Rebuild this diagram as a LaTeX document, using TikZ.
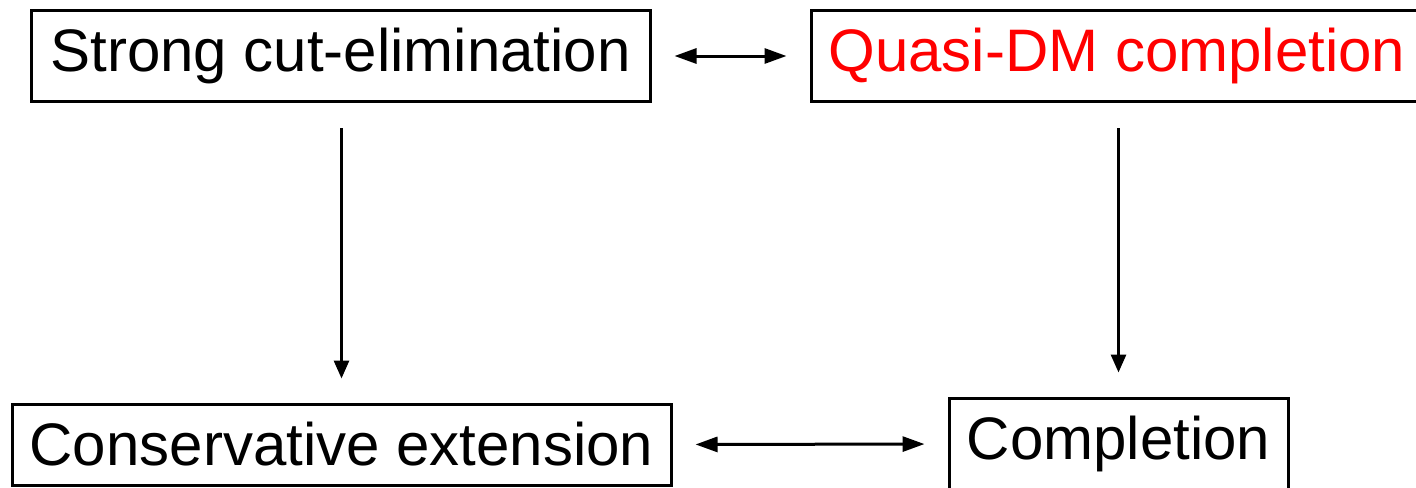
\documentclass[tikz,border=0pt]{standalone}
\usepackage{fontspec}
\setmainfont{Liberation Sans}
\usetikzlibrary{arrows.meta}
\begin{document}
\begin{tikzpicture}[x=0.5pt,y=-0.5pt,
  box/.style={draw,line width=1.5pt,inner sep=0pt,font=\fontsize{30}{36}\selectfont},
  conn/.style={line width=1.5pt,{Triangle[length=11pt,width=7.5pt]}-{Triangle[length=11pt,width=7.5pt]},shorten <=11.5pt,shorten >=11.5pt},
  down/.style={line width=1.5pt,-{Triangle[length=9pt,width=7.5pt]},shorten <=12.5pt,shorten >=12pt}]
\useasboundingbox (0,0) rectangle (1416,487);
\node[box,minimum width=309.5pt,minimum height=45.5pt] (A) at (340.5,56) {Strong cut-elimination};
\node[box,minimum width=306pt,minimum height=45.5pt,text=red] (B) at (1117,56) {Quasi-DM completion};
\node[box,minimum width=329.5pt,minimum height=40.5pt] (C) at (341.5,444.5) {Conservative extension};
\node[box,minimum width=169.5pt,minimum height=46pt] (D) at (1118.5,444) {Completion};
\draw[conn] (A.east) -- (B.west);
\draw[conn] (C.east) -- (D.west);
\draw[down] (C.north |- A.south) -- (C.north);
\draw[down] (D.north |- B.south) -- (D.north);
\end{tikzpicture}
\end{document}
